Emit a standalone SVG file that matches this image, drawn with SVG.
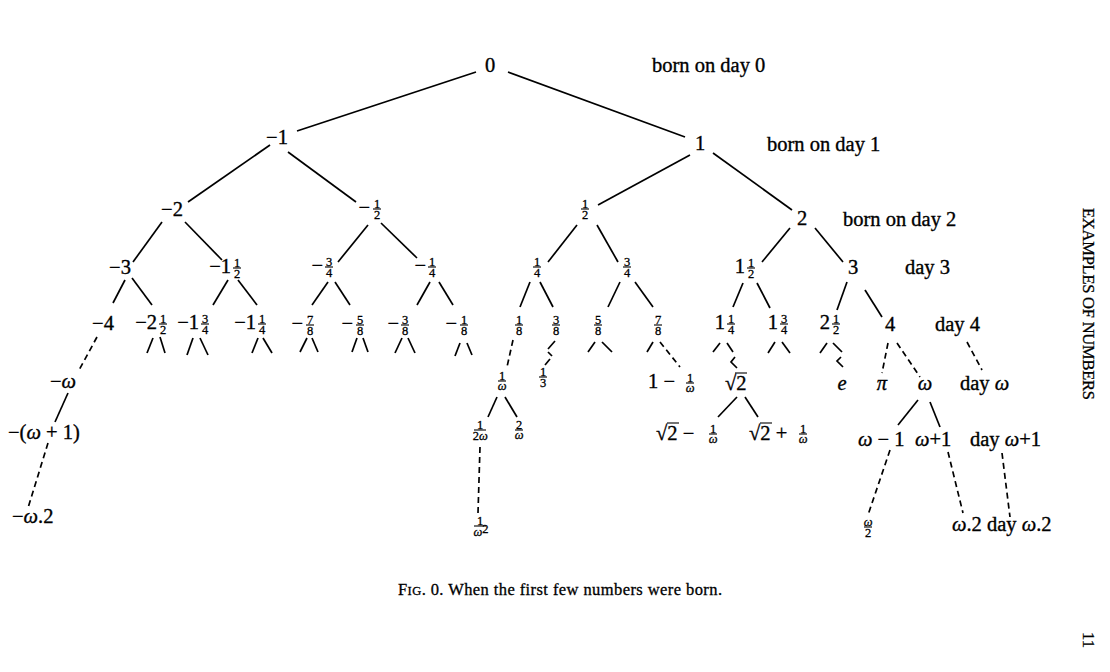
<svg xmlns="http://www.w3.org/2000/svg" width="1110" height="672" viewBox="0 0 1110 672">
<style>
.t{font-family:"Liberation Serif","Times New Roman",serif;font-size:20.5px;fill:#000;stroke:#000;stroke-width:0.35}
.lb{font-family:"Liberation Serif","Times New Roman",serif;font-size:20.5px;fill:#000;stroke:#000;stroke-width:0.35}
.m{text-anchor:middle}
.fs{font-size:12.5px;stroke-width:0.3}
.i{font-style:italic}
.cn line,.cn polyline{stroke:#000;stroke-width:1.7;fill:none}
.d{stroke-dasharray:6 4}
.fb{stroke:#000;stroke-width:1.1}
.ob{stroke:#000;stroke-width:1.1}
.cap{font-family:"Liberation Serif","Times New Roman",serif;font-size:16.5px;fill:#000;stroke:#000;stroke-width:0.3}
</style>
<defs>
<line id="bar" class="fb" x1="-4" y1="0" x2="4" y2="0"/>
<line id="barw" class="fb" x1="-6" y1="0" x2="6" y2="0"/>
</defs>
<rect width="1110" height="672" fill="#fff"/>

<g id="connectors" class="cn">
<line x1="476" y1="72" x2="297" y2="131"/>
<line x1="508" y1="72" x2="685" y2="137"/>
<line x1="270" y1="145" x2="188" y2="202"/>
<line x1="288" y1="152" x2="356" y2="202"/>
<line x1="690" y1="155" x2="598" y2="205"/>
<line x1="713" y1="153" x2="792" y2="210"/>
<line x1="162" y1="222" x2="133" y2="262"/>
<line x1="185" y1="222" x2="222" y2="260"/>
<line x1="368" y1="225" x2="338" y2="262"/>
<line x1="381" y1="223" x2="417" y2="258"/>
<line x1="577" y1="225" x2="548" y2="262"/>
<line x1="597" y1="225" x2="618" y2="262"/>
<line x1="790" y1="228" x2="762" y2="262"/>
<line x1="815" y1="228" x2="843" y2="262"/>
<line x1="125" y1="280" x2="113" y2="303"/>
<line x1="132" y1="278" x2="152" y2="305"/>
<line x1="228" y1="280" x2="213" y2="305"/>
<line x1="238" y1="280" x2="257" y2="305"/>
<line x1="328" y1="282" x2="312" y2="305"/>
<line x1="335" y1="282" x2="350" y2="305"/>
<line x1="430" y1="282" x2="417" y2="305"/>
<line x1="439" y1="282" x2="453" y2="305"/>
<line x1="530" y1="282" x2="520" y2="307"/>
<line x1="540" y1="282" x2="553" y2="307"/>
<line x1="620" y1="282" x2="608" y2="307"/>
<line x1="635" y1="282" x2="653" y2="307"/>
<line x1="743" y1="283" x2="733" y2="307"/>
<line x1="757" y1="283" x2="770" y2="308"/>
<line x1="847" y1="282" x2="837" y2="310"/>
<line x1="865" y1="290" x2="882" y2="317"/>
<line x1="153" y1="338" x2="147" y2="353"/><line x1="160" y1="337" x2="165" y2="353"/>
<line x1="193" y1="338" x2="187" y2="355"/><line x1="200" y1="338" x2="208" y2="355"/>
<line x1="258" y1="338" x2="252" y2="353"/><line x1="263" y1="338" x2="272" y2="353"/>
<line x1="307" y1="338" x2="300" y2="352"/><line x1="312" y1="338" x2="318" y2="352"/>
<line x1="357" y1="338" x2="352" y2="352"/><line x1="363" y1="338" x2="368" y2="352"/>
<line x1="402" y1="338" x2="395" y2="353"/><line x1="408" y1="338" x2="415" y2="353"/>
<line x1="460" y1="343" x2="455" y2="356"/><line x1="467" y1="343" x2="472" y2="355"/>
<line x1="595" y1="342" x2="588" y2="352"/><line x1="602" y1="342" x2="612" y2="352"/>
<line x1="653" y1="342" x2="647" y2="352"/>
<line x1="720" y1="343" x2="713" y2="352"/><line x1="727" y1="343" x2="733" y2="352"/>
<polyline points="735,357 731,362 737,368"/>
<line x1="775" y1="342" x2="768" y2="353"/><line x1="782" y1="342" x2="790" y2="353"/>
<line x1="827" y1="343" x2="820" y2="353"/><line x1="833" y1="343" x2="842" y2="352"/>
<polyline points="841,357 837,361 843,367"/>
<polyline points="555,341 548,349"/>
<polyline points="548,352 552,356"/>
<polyline points="550,359 545,365"/>
<line class="d" x1="97" y1="337" x2="78" y2="372"/>
<line x1="68" y1="393" x2="55" y2="422"/>
<line class="d" x1="48" y1="443" x2="28" y2="508"/>
<line class="d" x1="513" y1="340" x2="507" y2="367"/>
<line x1="497" y1="397" x2="488" y2="417"/>
<line x1="505" y1="397" x2="517" y2="417"/>
<line class="d" x1="480" y1="447" x2="478" y2="513"/>
<line class="d" x1="660" y1="342" x2="680" y2="367"/>
<line x1="737" y1="397" x2="718" y2="417"/>
<line x1="745" y1="397" x2="758" y2="417"/>
<line class="d" x1="888" y1="343" x2="882" y2="373"/>
<line class="d" x1="897" y1="343" x2="920" y2="377"/>
<line class="d" x1="967" y1="342" x2="982" y2="370"/>
<line x1="918" y1="400" x2="898" y2="425"/>
<line x1="930" y1="402" x2="940" y2="427"/>
<line class="d" x1="890" y1="450" x2="868" y2="515"/>
<line class="d" x1="948" y1="452" x2="963" y2="513"/>
<line class="d" x1="1002" y1="453" x2="1010" y2="517"/>
</g>

<!-- day 0-2 -->
<g id="n0"><text class="t m" x="490" y="72">0</text></g>
<g id="lab0"><text class="lb" x="652" y="72">born on day 0</text></g>
<g id="nm1"><text class="t m" x="277" y="144">−1</text></g>
<g id="n1"><text class="t m" x="700" y="150">1</text></g>
<g id="lab1"><text class="lb" x="767" y="151">born on day 1</text></g>
<g id="nm2"><text class="t m" x="172" y="216">−2</text></g>
<g id="nmh"><text class="t"><tspan x="358.4" y="214">−</tspan><tspan class="fs" x="373.9" y="207.5">1</tspan><tspan class="fs" x="373.9" y="219">2</tspan></text><use href="#bar" x="377" y="209"/></g>
<g id="nh"><text class="t"><tspan class="fs" x="581.9" y="207.5">1</tspan><tspan class="fs" x="581.9" y="219">2</tspan></text><use href="#bar" x="585" y="209"/></g>
<g id="n2"><text class="t m" x="802" y="225">2</text></g>
<g id="lab2"><text class="lb" x="843" y="226">born on day 2</text></g>

<!-- day 3 -->
<g id="nm3"><text class="t m" x="120" y="274">−3</text></g>
<g id="nm1h"><text class="t"><tspan x="209.2" y="273">−1</tspan><tspan class="fs" x="233.9" y="266.5">1</tspan><tspan class="fs" x="233.9" y="278">2</tspan></text><use href="#bar" x="237" y="268"/></g>
<g id="nm34"><text class="t"><tspan x="311.4" y="272">−</tspan><tspan class="fs" x="325.9" y="265.5">3</tspan><tspan class="fs" x="325.9" y="277">4</tspan></text><use href="#bar" x="329" y="267"/></g>
<g id="nm14"><text class="t"><tspan x="414.4" y="272">−</tspan><tspan class="fs" x="428.9" y="265.5">1</tspan><tspan class="fs" x="428.9" y="277">4</tspan></text><use href="#bar" x="432" y="267"/></g>
<g id="n14"><text class="t"><tspan class="fs" x="533.9" y="265.5">1</tspan><tspan class="fs" x="533.9" y="277">4</tspan></text><use href="#bar" x="537" y="267"/></g>
<g id="n34"><text class="t"><tspan class="fs" x="623.9" y="265.5">3</tspan><tspan class="fs" x="623.9" y="277">4</tspan></text><use href="#bar" x="627" y="267"/></g>
<g id="n1h"><text class="t"><tspan x="734.75" y="273">1</tspan><tspan class="fs" x="747.9" y="266.5">1</tspan><tspan class="fs" x="747.9" y="278">2</tspan></text><use href="#bar" x="751" y="268"/></g>
<g id="n3"><text class="t m" x="853" y="274">3</text></g>
<g id="lab3"><text class="lb" x="905" y="274">day 3</text></g>

<!-- day 4 -->
<g id="nm4"><text class="t m" x="103" y="330">−4</text></g>
<g id="nm2h"><text class="t"><tspan x="135.2" y="329">−2</tspan><tspan class="fs" x="159.9" y="322.5">1</tspan><tspan class="fs" x="159.9" y="334">2</tspan></text><use href="#bar" x="163" y="324"/></g>
<g id="nm134"><text class="t"><tspan x="177.2" y="329">−1</tspan><tspan class="fs" x="201.9" y="322.5">3</tspan><tspan class="fs" x="201.9" y="334">4</tspan></text><use href="#bar" x="205" y="324"/></g>
<g id="nm114"><text class="t"><tspan x="234.2" y="329">−1</tspan><tspan class="fs" x="258.9" y="322.5">1</tspan><tspan class="fs" x="258.9" y="334">4</tspan></text><use href="#bar" x="262" y="324"/></g>
<g id="nm78"><text class="t"><tspan x="291.4" y="330">−</tspan><tspan class="fs" x="306.9" y="323.5">7</tspan><tspan class="fs" x="306.9" y="335">8</tspan></text><use href="#bar" x="310" y="325"/></g>
<g id="nm58"><text class="t"><tspan x="341.4" y="330">−</tspan><tspan class="fs" x="356.9" y="323.5">5</tspan><tspan class="fs" x="356.9" y="335">8</tspan></text><use href="#bar" x="360" y="325"/></g>
<g id="nm38"><text class="t"><tspan x="387.4" y="330">−</tspan><tspan class="fs" x="401.9" y="323.5">3</tspan><tspan class="fs" x="401.9" y="335">8</tspan></text><use href="#bar" x="405" y="325"/></g>
<g id="nm18"><text class="t"><tspan x="445.4" y="330">−</tspan><tspan class="fs" x="460.9" y="323.5">1</tspan><tspan class="fs" x="460.9" y="335">8</tspan></text><use href="#bar" x="464" y="325"/></g>
<g id="n18"><text class="t"><tspan class="fs" x="515.9" y="323.5">1</tspan><tspan class="fs" x="515.9" y="335">8</tspan></text><use href="#bar" x="519" y="325"/></g>
<g id="n38"><text class="t"><tspan class="fs" x="552.9" y="323.5">3</tspan><tspan class="fs" x="552.9" y="335">8</tspan></text><use href="#bar" x="556" y="325"/></g>
<g id="n58"><text class="t"><tspan class="fs" x="594.9" y="323.5">5</tspan><tspan class="fs" x="594.9" y="335">8</tspan></text><use href="#bar" x="598" y="325"/></g>
<g id="n78"><text class="t"><tspan class="fs" x="654.9" y="323.5">7</tspan><tspan class="fs" x="654.9" y="335">8</tspan></text><use href="#bar" x="658" y="325"/></g>
<g id="n114"><text class="t"><tspan x="714.75" y="329">1</tspan><tspan class="fs" x="727.9" y="322.5">1</tspan><tspan class="fs" x="727.9" y="334">4</tspan></text><use href="#bar" x="731" y="324"/></g>
<g id="n134"><text class="t"><tspan x="767.75" y="329">1</tspan><tspan class="fs" x="780.9" y="322.5">3</tspan><tspan class="fs" x="780.9" y="334">4</tspan></text><use href="#bar" x="784" y="324"/></g>
<g id="n2h"><text class="t"><tspan x="819.75" y="329">2</tspan><tspan class="fs" x="832.9" y="322.5">1</tspan><tspan class="fs" x="832.9" y="334">2</tspan></text><use href="#bar" x="836" y="324"/></g>
<g id="n4"><text class="t m" x="890" y="331">4</text></g>
<g id="lab4"><text class="lb" x="935" y="331">day 4</text></g>

<!-- day omega -->
<g id="nmw"><text class="t" x="50" y="388">−<tspan class="i">ω</tspan></text></g>
<g id="n1w"><text class="t"><tspan class="fs" x="498.9" y="379.5">1</tspan><tspan class="fs i" x="497.8" y="390">ω</tspan></text><use href="#bar" x="502" y="381"/></g>
<g id="n13"><text class="t"><tspan class="fs" x="539.9" y="375.5">1</tspan><tspan class="fs" x="539.9" y="387">3</tspan></text><use href="#bar" x="543" y="377"/></g>
<g id="n1m1w"><text class="t"><tspan x="648" y="388">1 −</tspan><tspan class="fs" x="686.9" y="381.5">1</tspan><tspan class="fs i" x="685.8" y="392">ω</tspan></text><use href="#bar" x="690" y="383"/></g>
<g id="nr2"><text class="t" x="725" y="390">√2</text><line class="ob" x1="735" y1="373" x2="747" y2="373"/></g>
<g id="ne"><text class="t m i" x="842" y="390">e</text></g>
<g id="npi"><text class="t m i" x="882" y="390">π</text></g>
<g id="nw"><text class="t m i" x="925" y="390">ω</text></g>
<g id="labw"><text class="lb" x="960" y="390">day <tspan class="i">ω</tspan></text></g>

<!-- day omega+1 -->
<g id="nmw1"><text class="t" x="8" y="439">−(<tspan class="i">ω</tspan> + 1)</text></g>
<g id="n12w"><text class="t"><tspan class="fs" x="476.9" y="428.5">1</tspan><tspan class="fs" x="472.7" y="440">2</tspan><tspan class="fs i">ω</tspan></text><use href="#barw" x="480" y="430"/></g>
<g id="n2w"><text class="t"><tspan class="fs" x="515.9" y="428.5">2</tspan><tspan class="fs i" x="514.8" y="439">ω</tspan></text><use href="#bar" x="519" y="430"/></g>
<g id="nr2m"><text class="t"><tspan x="656" y="440">√2 −</tspan><tspan class="fs" x="709.9" y="432.5">1</tspan><tspan class="fs i" x="708.8" y="443">ω</tspan></text><line class="ob" x1="667" y1="423" x2="679" y2="423"/><use href="#bar" x="713" y="434"/></g>
<g id="nr2p"><text class="t"><tspan x="749" y="440">√2 +</tspan><tspan class="fs" x="799.9" y="432.5">1</tspan><tspan class="fs i" x="798.8" y="443">ω</tspan></text><line class="ob" x1="760" y1="423" x2="772" y2="423"/><use href="#bar" x="803" y="434"/></g>
<g id="nwm1"><text class="t" x="858" y="446"><tspan class="i">ω</tspan> − 1</text></g>
<g id="nwp1"><text class="t" x="915" y="446"><tspan class="i">ω</tspan>+1</text></g>
<g id="labw1"><text class="lb" x="970" y="446">day <tspan class="i">ω</tspan>+1</text></g>

<!-- day omega.2 -->
<g id="nmw2"><text class="t" x="12" y="523">−<tspan class="i">ω</tspan>.2</text></g>
<g id="n1w2"><text class="t"><tspan class="fs" x="476.9" y="524.5">1</tspan><tspan class="fs i" x="473.5" y="536">ω</tspan><tspan class="fs" font-size="9" dy="-3">2</tspan></text><use href="#barw" x="480" y="526"/></g>
<g id="nwh"><text class="t"><tspan class="fs i" x="863.8" y="525.5">ω</tspan><tspan class="fs" x="864.9" y="537">2</tspan></text><use href="#bar" x="868" y="527"/></g>
<g id="nw2"><text class="t" x="952" y="531"><tspan class="i">ω</tspan>.2</text></g>
<g id="labw2"><text class="lb" x="987" y="531">day <tspan class="i">ω</tspan>.2</text></g>

<g id="caption"><text class="cap" x="398" y="595" textLength="324">F<tspan font-size="12.5">IG</tspan>. 0. When the first few numbers were born.</text></g>
<g id="side"><text class="cap" transform="translate(1083,208) rotate(90)" textLength="192">EXAMPLES OF NUMBERS</text></g>
<g id="page"><text class="cap" transform="translate(1083,632) rotate(90)">11</text></g>
</svg>
